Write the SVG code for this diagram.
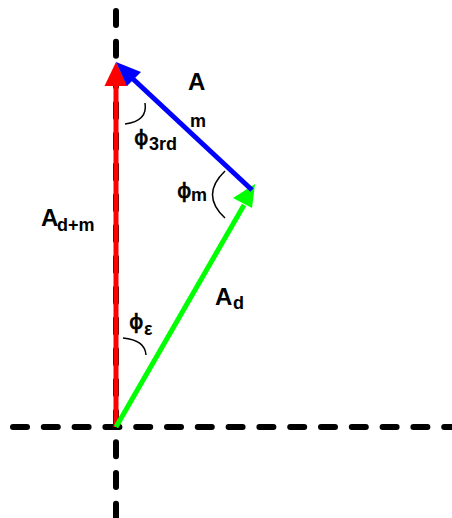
<svg xmlns="http://www.w3.org/2000/svg" width="452" height="518" viewBox="0 0 452 518">
<style>
.axis{stroke:#000;stroke-width:6;stroke-linecap:round;stroke-dasharray:14 16.8;fill:none}
.big{font-family:"Liberation Sans",Arial,sans-serif;font-weight:bold;font-size:24px;fill:#000}
.sub{font-family:"Liberation Sans",Arial,sans-serif;font-weight:bold;font-size:18px;fill:#000}
.phi{font-family:"DejaVu Sans","Liberation Sans",sans-serif;font-size:22px;fill:#000;stroke:#000;stroke-width:0.7}
.arc{stroke:#000;stroke-width:1.5;fill:none}
</style>
<rect width="452" height="518" fill="#fff"/>
<g id="axes">
<line class="axis" x1="13" y1="427" x2="452" y2="427"/>
<line class="axis" x1="116" y1="11" x2="116" y2="518"/>
</g>
<g id="connectors">
<g id="A_dm">
<line x1="116" y1="427" x2="116" y2="84" stroke="#ff0000" stroke-width="5"/>
<polygon points="116,62 104.5,86 127.5,86" fill="#ff0000"/>
</g>
<g id="A_d">
<line x1="116" y1="427" x2="244" y2="205" stroke="#00ff00" stroke-width="5"/>
<polygon points="255,184 233,198 252,208" fill="#00ff00"/>
</g>
<g id="A_m">
<line x1="252" y1="190" x2="132" y2="78" stroke="#0000ff" stroke-width="5"/>
<polygon points="116,62 127,86 141,72" fill="#0000ff"/>
</g>
</g>
<g id="label_Am">
<text class="big" x="188" y="90">A</text>
<text class="sub" x="190" y="127">m</text>
</g>
<g id="label_Adm">
<text class="big" x="41" y="226">A</text>
<text class="sub" x="57" y="231">d+m</text>
</g>
<g id="label_Ad">
<text class="big" x="215" y="305">A</text>
<text class="sub" x="233" y="309">d</text>
</g>
<g id="angle_3rd">
<path class="arc" d="M145,103 Q148,121 125,124"/>
<text class="phi" x="134" y="145">ϕ</text>
<text class="sub" x="149" y="150">3rd</text>
</g>
<g id="angle_m">
<path class="arc" d="M225,171 Q200,195 225,218"/>
<text class="phi" x="177" y="198">ϕ</text>
<text class="sub" x="191" y="201">m</text>
</g>
<g id="angle_eps">
<path class="arc" d="M123,338 Q145,340 146,355"/>
<text class="phi" x="129" y="329">ϕ</text>
<text class="sub" x="144" y="335">ε</text>
</g>
</svg>
